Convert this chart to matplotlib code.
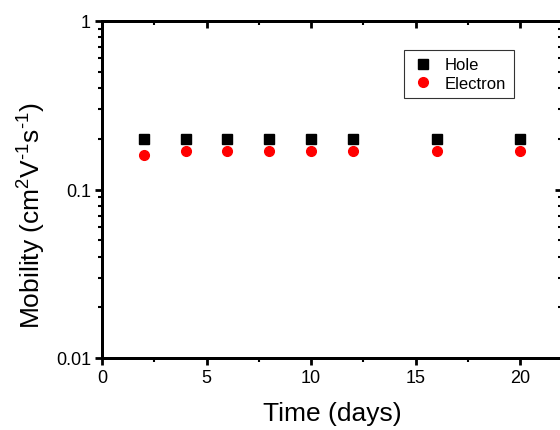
import matplotlib
matplotlib.use("Agg")
import matplotlib.pyplot as plt
from matplotlib.ticker import LogLocator, FixedLocator, NullFormatter

plt.rcParams['font.family'] = ['Liberation Sans', 'DejaVu Sans']
plt.rcParams['mathtext.fontset'] = 'custom'
plt.rcParams['mathtext.rm'] = 'Liberation Sans'
plt.rcParams['mathtext.it'] = 'Liberation Sans'
plt.rcParams['mathtext.default'] = 'regular'

days = [2, 4, 6, 8, 10, 12, 16, 20]
hole = [0.20, 0.20, 0.20, 0.20, 0.20, 0.20, 0.20, 0.20]
electron = [0.16, 0.17, 0.17, 0.17, 0.17, 0.17, 0.17, 0.17]

fig = plt.figure(figsize=(5.6, 4.31), dpi=100)
ax = fig.add_axes([102 / 560, 72 / 431, 460 / 560, 337 / 431])

ax.plot(days, hole, 's', color='black', markersize=6.5, label='Hole')
ax.plot(days, electron, 'o', color='red', markersize=7, label='Electron')

ax.set_yscale('log')
ax.set_xlim(0, 22)
ax.set_ylim(0.01, 1)
ax.set_xticks([0, 5, 10, 15, 20])
ax.xaxis.set_minor_locator(FixedLocator([2.5, 7.5, 12.5, 17.5]))
ax.set_yticks([0.01, 0.1, 1])
ax.set_yticklabels(['0.01', '0.1', '1'])
ax.yaxis.set_minor_locator(LogLocator(base=10, subs=range(2, 10)))
ax.yaxis.set_minor_formatter(NullFormatter())

for s in ax.spines.values():
    s.set_linewidth(2)
ax.tick_params(which='major', direction='out', length=5, width=2, labelsize=13,
               top=False, right=False, pad=3)
ax.tick_params(which='minor', direction='out', length=3, width=1.5,
               top=False, right=False)

# mirrored ticks pointing inwards on top and right
ax2 = ax.twinx()
ax2.set_yscale('log')
ax2.set_ylim(0.01, 1)
ax2.yaxis.set_minor_locator(LogLocator(base=10, subs=range(2, 10)))
ax2.tick_params(which='major', direction='in', length=5, width=2, labelright=False)
ax2.tick_params(which='minor', direction='in', length=3, width=1.5, labelright=False)
ax3 = ax.twiny()
ax3.set_xlim(0, 22)
ax3.set_xticks([0, 5, 10, 15, 20])
ax3.xaxis.set_minor_locator(FixedLocator([2.5, 7.5, 12.5, 17.5]))
ax3.tick_params(which='major', direction='in', length=5, width=2, labeltop=False)
ax3.tick_params(which='minor', direction='in', length=3, width=1.5, labeltop=False)
for a in (ax2, ax3):
    for s in a.spines.values():
        s.set_linewidth(2)

ax.set_xlabel('Time (days)', fontsize=19)
ax.xaxis.set_label_coords(0.5, -0.127)
ax.set_ylabel(r'Mobility (cm$^2$V$^{\text{-}1}$s$^{\text{-}1}$)', fontsize=19)
ax.yaxis.set_label_coords(-0.118, 0.425)

leg = ax.legend(loc='upper left', bbox_to_anchor=(0.657, 0.914), fontsize=12,
                frameon=True, fancybox=False, edgecolor='black', handletextpad=0.7,
                borderpad=0.45, labelspacing=0.2, handlelength=1.3,
                borderaxespad=0)
leg.get_frame().set_linewidth(0.8)

fig.savefig('out.png', dpi=100)
